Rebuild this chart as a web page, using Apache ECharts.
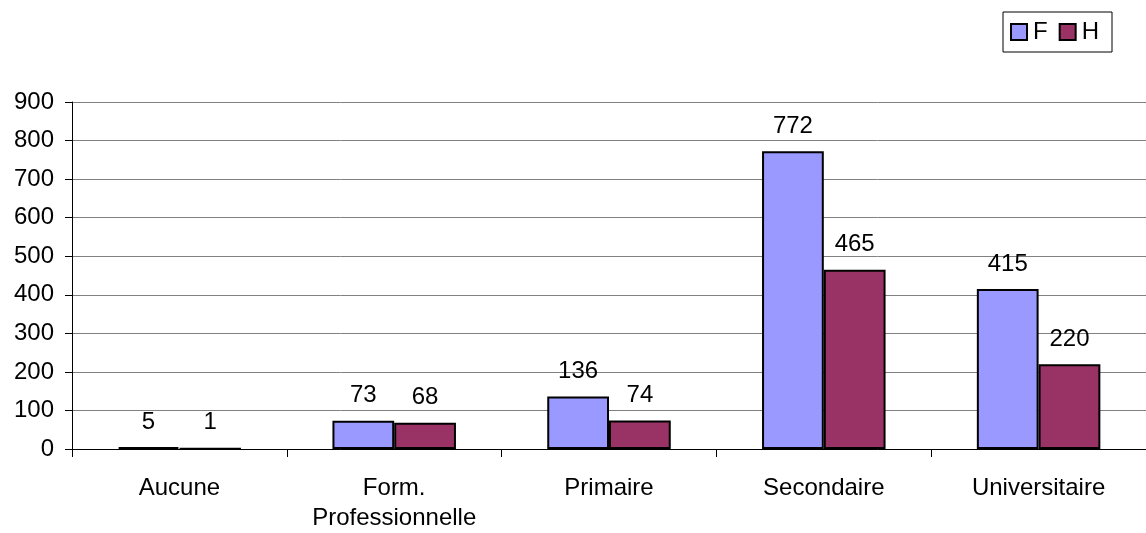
<!DOCTYPE html>
<html><head><meta charset="utf-8">
<script src="https://cdn.jsdelivr.net/npm/echarts@6/dist/echarts.min.js"></script>
<style>html,body{margin:0;padding:0;background:#fff;overflow:hidden}#c{width:1146px;height:533px}</style>
</head><body><div id="c"></div>
<script>
var categories = ['Aucune', 'Form.\nProfessionnelle', 'Primaire', 'Secondaire', 'Universitaire'];
var seriesF = [5, 73, 136, 772, 415];
var seriesH = [1, 68, 74, 465, 220];
var yTicks = [0, 100, 200, 300, 400, 500, 600, 700, 800, 900];

var chart = echarts.init(document.getElementById('c'));
var font = 'Liberation Sans, Arial, sans-serif';
var lbl = {show: true, position: 'top', distance: 13, fontSize: 24, color: '#000', fontFamily: font};
chart.setOption({
  animation: false,
  legend: {
    right: 34, top: 12,
    data: ['F', 'H'],
    orient: 'horizontal',
    itemWidth: 16, itemHeight: 16, itemGap: 11,
    padding: [8, 13, 8, 7],
    borderColor: '#000', borderWidth: 1,
    textStyle: {fontSize: 24, color: '#000', fontFamily: font, padding: [0, 0, 0, 1]},
    icon: 'rect'
  },
  grid: {left: 72, right: -5, top: 102, bottom: 80, containLabel: false},
  xAxis: {
    type: 'category', data: categories,
    axisLine: {lineStyle: {color: '#000', width: 1}},
    axisTick: {show: true, length: 8, lineStyle: {color: '#000'}},
    axisLabel: {fontSize: 24, color: '#000', fontFamily: font, margin: 24, lineHeight: 30}
  },
  yAxis: {
    type: 'value', min: 0, max: 900, interval: 100,
    axisLine: {show: true, lineStyle: {color: '#000'}},
    axisTick: {show: true, length: 7, inside: false, lineStyle: {color: '#000'}},
    splitLine: {lineStyle: {color: '#808080', width: 1}},
    axisLabel: {fontSize: 24, color: '#000', fontFamily: font, margin: 18,
      formatter: function(v){ return yTicks.indexOf(v) >= 0 ? String(v) : ''; }}
  },
  series: [
    {name: 'F', type: 'bar', data: seriesF, barGap: '0%', barCategoryGap: '42.5%',
     itemStyle: {color: '#9999FF', borderColor: '#000', borderWidth: 2}, label: lbl},
    {name: 'H', type: 'bar', data: seriesH,
     itemStyle: {color: '#993366', borderColor: '#000', borderWidth: 2}, label: lbl}
  ]
});
</script></body></html>
